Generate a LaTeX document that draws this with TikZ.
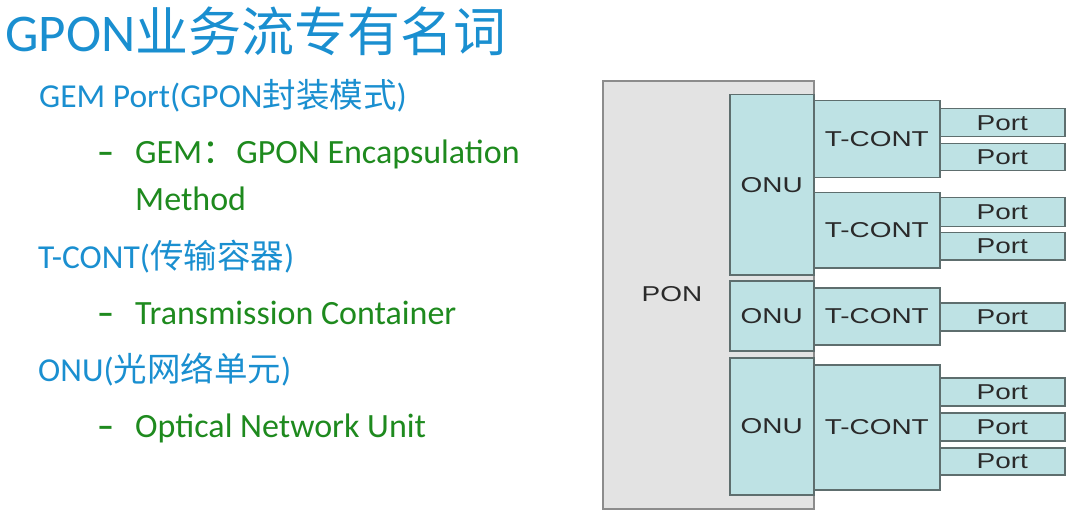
\documentclass[tikz,border=0pt]{standalone}
\usepackage{fontspec}
\setmainfont{Carlito}
\newfontfamily\cjk{Noto Sans CJK SC}
\newfontfamily\arialf{Liberation Sans}
\definecolor{tblue}{HTML}{1A8FD0}
\definecolor{tgreen}{HTML}{1E8A1E}
\definecolor{boxfill}{HTML}{BEE2E4}
\definecolor{boxline}{HTML}{5E6E6E}
\definecolor{ponfill}{HTML}{E3E3E3}
\definecolor{ponline}{HTML}{8C8C8C}
\definecolor{boxtext}{HTML}{2A2A2A}
\newcommand{\wide}[1]{\scalebox{1.3}[1]{#1}}
\tikzset{
  x=1pt, y=-1pt,
  title/.style={anchor=base west, inner sep=0pt, text=tblue, font=\fontsize{53}{60}\selectfont},
  head/.style={anchor=base west, inner sep=0pt, text=tblue, font=\fontsize{33.5}{38}\selectfont},
  sub/.style={anchor=base west, inner sep=0pt, text=tgreen, font=\fontsize{34}{38}\selectfont},
  ponbox/.style={draw=ponline, fill=ponfill, line width=2pt, anchor=north west, inner sep=0pt},
  cbox/.style={draw=boxline, fill=boxfill, line width=1.5pt, anchor=north west, inner sep=0pt,
    text=boxtext, font=\arialf\fontsize{21.5}{24}\selectfont},
  lbl/.style={inner sep=0pt, text=boxtext, font=\arialf\fontsize{21.5}{24}\selectfont}
}
\begin{document}
\begin{tikzpicture}
\useasboundingbox (0,0) rectangle (1068,513);
% left text
\node[title] (t0) at (5,52) {GPON{\cjk 业务流专有名词}};
\node[head] (h1) at (39,108) {GEM Port(GPON{\cjk 封装模式})};
\node[sub] (d1) at (97,164) {\textbf{–}};
\node[sub] (s1) at (135,164) {GEM{\cjk ：}GPON Encapsulation};
\node[sub] (s1b) at (135,211) {Method};
\node[head] (h2) at (38,268) {T-CONT({\cjk 传输容器})};
\node[sub] (d2) at (97,324) {\textbf{–}};
\node[sub] (s2) at (135,324) {Transmission Container};
\node[head] (h3) at (38,381) {ONU({\cjk 光网络单元})};
\node[sub] (d3) at (97,437) {\textbf{–}};
\node[sub] (s3) at (135,437) {Optical Network Unit};
% diagram
\node[ponbox, minimum width=211pt, minimum height=428pt] (pon) at (602,80) {};
\node[lbl] (ponl) at (672,294) {\wide{PON}};
% ONU 1
\node[cbox, minimum width=84pt, minimum height=180pt] (onu1) at (729,94) {\wide{ONU}};
\node[cbox, minimum width=126pt, minimum height=77pt] (tc1) at (813,100) {\wide{T-CONT}};
\node[cbox, minimum width=125pt, minimum height=28pt] (p1) at (939,108) {\wide{Port}};
\node[cbox, minimum width=125pt, minimum height=27pt] (p2) at (939,143) {\wide{Port}};
\node[cbox, minimum width=126pt, minimum height=75pt] (tc2) at (813,192) {\wide{T-CONT}};
\node[cbox, minimum width=125pt, minimum height=29pt] (p3) at (939,197) {\wide{Port}};
\node[cbox, minimum width=125pt, minimum height=27pt] (p4) at (939,232) {\wide{Port}};
% ONU 2
\node[cbox, minimum width=84pt, minimum height=70pt] (onu2) at (729,280) {\wide{ONU}};
\node[cbox, minimum width=126pt, minimum height=57pt] (tc3) at (813,287) {\wide{T-CONT}};
\node[cbox, minimum width=125pt, minimum height=28pt] (p5) at (939,302) {\wide{Port}};
% ONU 3
\node[cbox, minimum width=84pt, minimum height=137pt] (onu3) at (729,357) {\wide{ONU}};
\node[cbox, minimum width=126pt, minimum height=125pt] (tc4) at (813,364) {\wide{T-CONT}};
\node[cbox, minimum width=125pt, minimum height=28pt] (p6) at (939,377) {\wide{Port}};
\node[cbox, minimum width=125pt, minimum height=28pt] (p7) at (939,412) {\wide{Port}};
\node[cbox, minimum width=125pt, minimum height=27pt] (p8) at (939,447) {\wide{Port}};
\end{tikzpicture}
\end{document}
